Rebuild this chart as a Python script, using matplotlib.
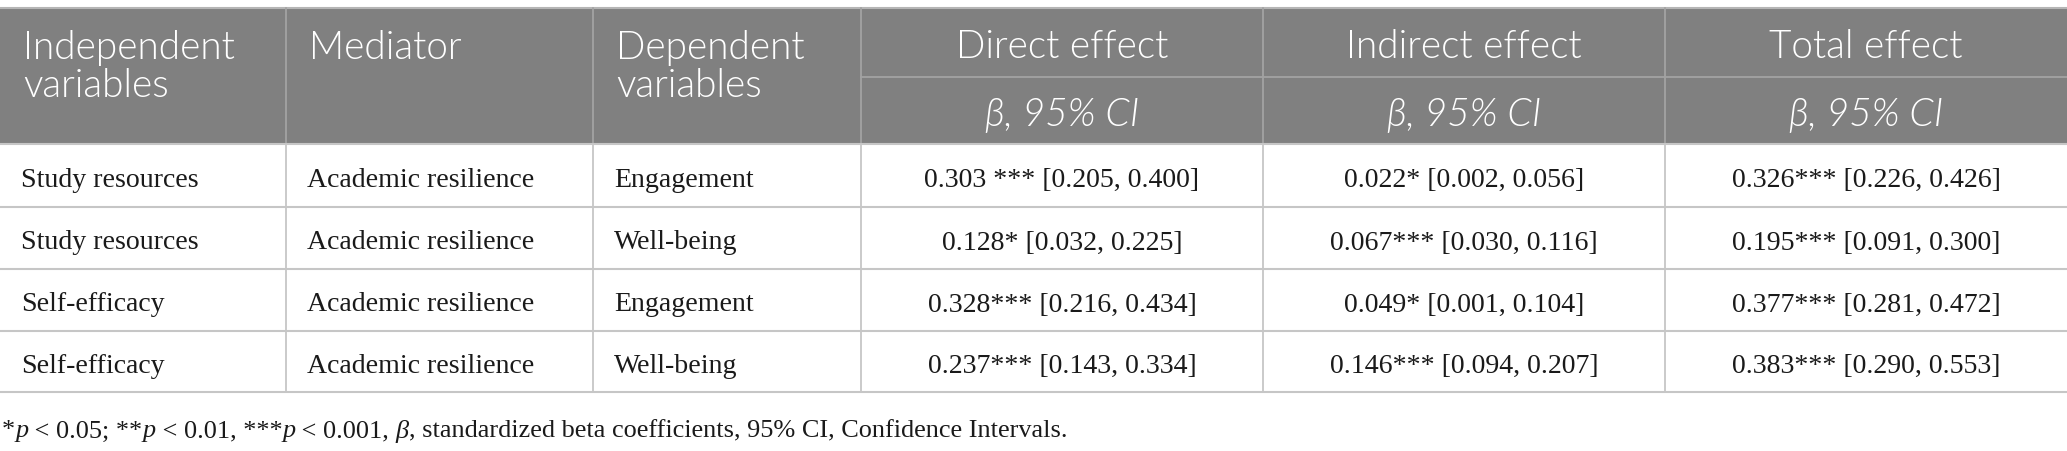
import matplotlib
matplotlib.use("Agg")
import matplotlib.pyplot as plt
from matplotlib.patches import Rectangle

# ---- data ----
header_left = [["Independent", "variables"], ["Mediator"], ["Dependent", "variables"]]
header_effects = ["Direct effect", "Indirect effect", "Total effect"]
header_sub = "β, 95% CI"
independent = ["Study resources", "Study resources", "Self-efficacy", "Self-efficacy"]
mediator = ["Academic resilience"] * 4
dependent = ["Engagement", "Well-being", "Engagement", "Well-being"]
direct = ["0.303 *** [0.205, 0.400]", "0.128* [0.032, 0.225]",
          "0.328*** [0.216, 0.434]", "0.237*** [0.143, 0.334]"]
indirect = ["0.022* [0.002, 0.056]", "0.067*** [0.030, 0.116]",
            "0.049* [0.001, 0.104]", "0.146*** [0.094, 0.207]"]
total = ["0.326*** [0.226, 0.426]", "0.195*** [0.091, 0.300]",
         "0.377*** [0.281, 0.472]", "0.383*** [0.290, 0.553]"]
footnote = [("*", False), ("p", True), (" < 0.05; **", False), ("p", True),
            (" < 0.01, ***", False), ("p", True), (" < 0.001, ", False), ("β", True),
            (", standardized beta coefficients, 95% CI, Confidence Intervals.", False)]

# ---- layout (pixels) ----
W, H = 2067, 452
col_x = [0, 286, 593, 861, 1263, 1665, 2067]
y_top, y_mid, y_hdr = 9, 78, 145
row_y = [145, 208, 270, 332, 393]
HDR_BG = "#808080"
HDR_LINE = "#a3a3a3"
BODY_LINE = "#c6c6c6"
TXT = "#1a1a1a"
SANS = ["Lato", "Liberation Serif", "DejaVu Sans"]
SERIF = ["Liberation Serif", "DejaVu Serif"]
HW = 300

fig = plt.figure(figsize=(W / 100, H / 100), dpi=100)
ax = fig.add_axes([0, 0, 1, 1])
ax.set_xlim(0, W)
ax.set_ylim(H, 0)
ax.axis("off")
fig.canvas.draw()
renderer = fig.canvas.get_renderer()


def text_width(s, family, style="normal", size=10, weight="normal"):
    t = ax.text(0, 0, s, fontsize=size, family=family, style=style, weight=weight)
    w = t.get_window_extent(renderer=renderer).width
    t.remove()
    return w


def fit_size(s, family, target, style="normal", weight="normal"):
    return 10 * target / text_width(s, family, style, weight=weight)


hfs = fit_size("Direct effect", SANS, 213, weight=HW)
bfs = fit_size("0.303 *** [0.205, 0.400]", SERIF, 275)
fn_w10 = sum(text_width(t, SERIF, "italic" if it else "normal") for t, it in footnote)
ffs = 10 * 1066 / fn_w10

# header background
ax.add_patch(Rectangle((0, y_top), W, y_hdr - y_top, facecolor=HDR_BG, edgecolor="none"))
ax.plot([0, W], [y_top, y_top], color="#b5b5b5", lw=1.5)
ax.plot([col_x[3], W], [y_mid, y_mid], color=HDR_LINE, lw=1.3)
for x in col_x[1:-1]:
    ax.plot([x, x], [y_top, y_hdr], color=HDR_LINE, lw=1.3)

# body lines
for y in row_y:
    ax.plot([0, W], [y, y], color=BODY_LINE, lw=1.5)
for x in col_x[1:-1]:
    ax.plot([x, x], [row_y[0], row_y[-1]], color=BODY_LINE, lw=1.3)

# header text
base1, base2, base_sub = 59, 97, 126
for i, lines in enumerate(header_left):
    for j, ln in enumerate(lines):
        ax.text(col_x[i] + 23, [base1, base2][j], ln, ha="left", va="baseline",
                color="white", fontsize=hfs, family=SANS, weight=HW)
for k, t in enumerate(header_effects):
    xc = (col_x[3 + k] + col_x[4 + k]) / 2
    ax.text(xc, base1 - 1, t, ha="center", va="baseline", color="white",
            fontsize=hfs, family=SANS, weight=HW)
    ax.text(xc, base_sub, header_sub, ha="center", va="baseline", color="white",
            fontsize=hfs, family=SANS, style="italic", weight=HW)

# body text
cols = [independent, mediator, dependent, direct, indirect, total]
for r in range(4):
    yc = (row_y[r] + row_y[r + 1]) / 2 + 1
    for c, vals in enumerate(cols):
        if c < 3:
            ax.text(col_x[c] + 21, yc, vals[r], ha="left", va="center_baseline",
                    fontsize=bfs, family=SERIF, color=TXT)
        else:
            ax.text((col_x[c] + col_x[c + 1]) / 2, yc, vals[r], ha="center",
                    va="center_baseline", fontsize=bfs, family=SERIF, color=TXT)

# footnote (pieces with italic parts)
x = 2
inv = ax.transData.inverted()
for txt, it in footnote:
    t = ax.text(x, 429, txt, ha="left", va="center_baseline", fontsize=ffs, family=SERIF,
                style="italic" if it else "normal", color=TXT)
    bb = t.get_window_extent(renderer=renderer)
    x += inv.transform((bb.x1, 0))[0] - inv.transform((bb.x0, 0))[0]

fig.savefig("out.png", dpi=100)
